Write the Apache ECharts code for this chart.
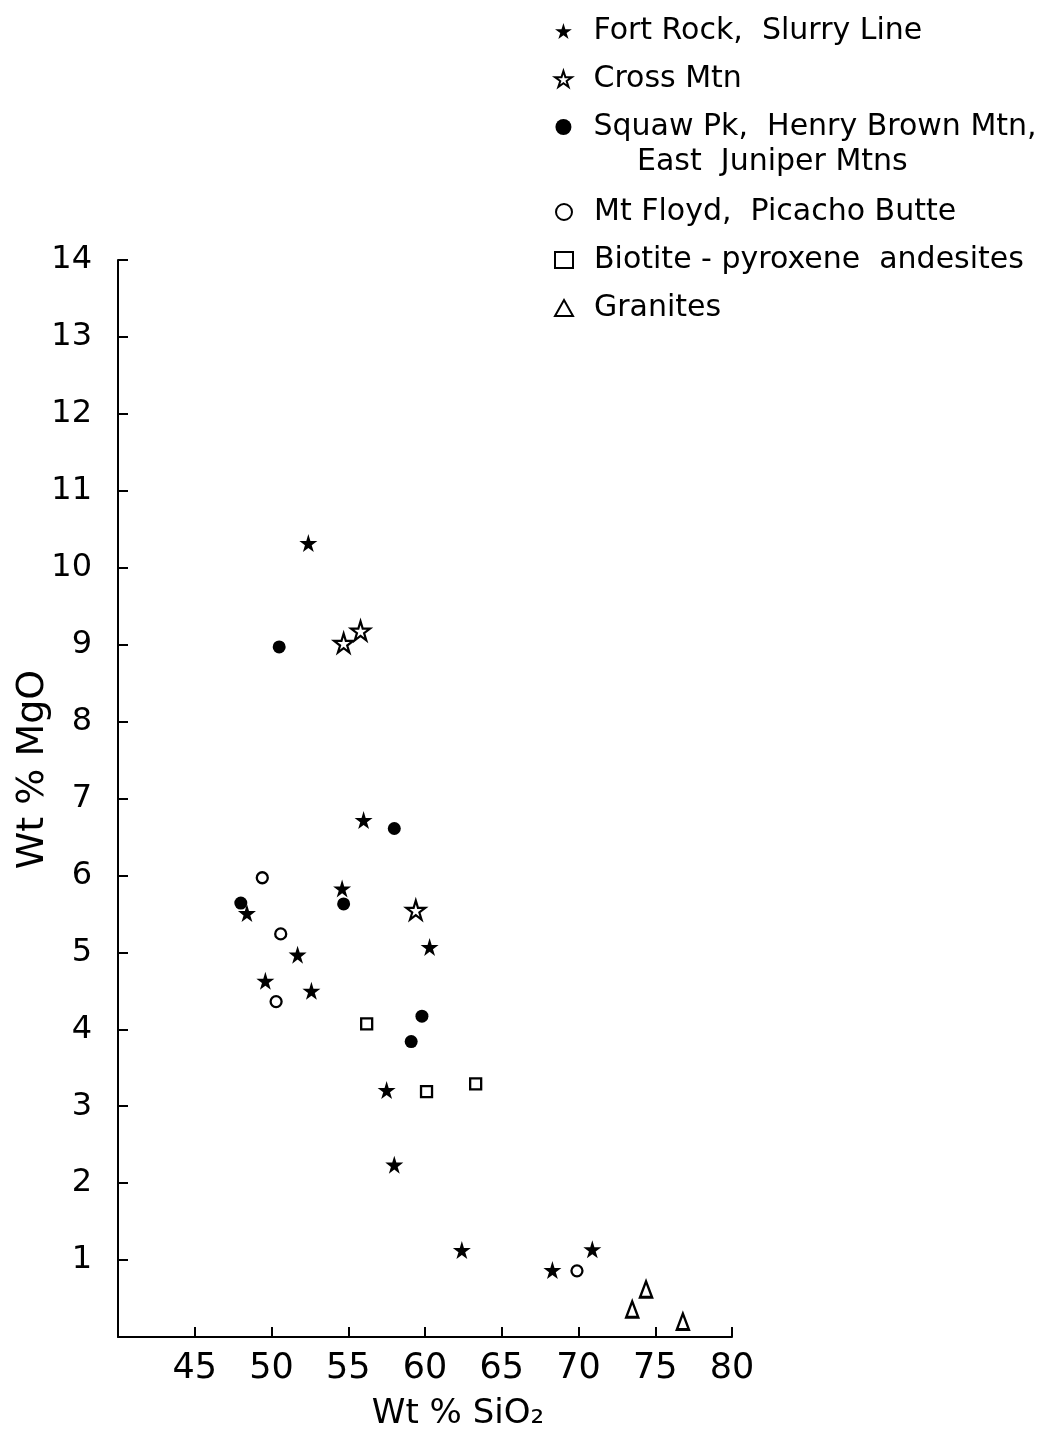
<!DOCTYPE html>
<html><head><meta charset="utf-8">
<script src="https://cdn.jsdelivr.net/npm/echarts@6/dist/echarts.min.js"></script>
<style>html,body{margin:0;padding:0;background:#fff}#c{width:1061px;height:1438px}</style>
</head><body><div id="c"></div>
<script>
// Tick labels
const xTickLabels = [45, 50, 55, 60, 65, 70, 75, 80];
const yTickLabels = [1, 2, 3, 4, 5, 6, 7, 8, 9, 10, 11, 12, 13, 14];

// Series names
const seriesNames = [
  'Fort Rock,  Slurry Line',
  'Cross Mtn',
  'Squaw Pk,  Henry Brown Mtn,',
  'Mt Floyd,  Picacho Butte',
  'Biotite - pyroxene  andesites',
  'Granites'
];

// Data [SiO2, MgO]
const fortRock = [[52.4,10.32],[56.0,6.72],[54.6,5.83],[48.4,5.51],[51.7,4.97],[60.3,5.07],[49.6,4.63],[52.6,4.50],[57.5,3.21],[58.0,2.24],[62.4,1.13],[68.3,0.87],[70.9,1.14]];
const crossMtn = [[54.7,9.02],[55.8,9.18],[59.4,5.55]];
const squawPk = [[50.5,8.97],[58.0,6.61],[48.0,5.64],[54.7,5.63],[59.8,4.17],[59.1,3.84]];
const mtFloyd = [[49.4,5.97],[50.6,5.24],[50.3,4.36],[69.9,0.86]];
const biotite = [[56.2,4.07],[60.1,3.19],[63.3,3.29]];
const granites = [[73.5,0.36],[74.4,0.62],[76.8,0.20]];

const FONT = 'DejaVu Sans';
const STAR = 'path://M50,0 L61,35 L98,35 L68,57 L79,91 L50,70 L21,91 L32,57 L2,35 L39,35 Z';

const chart = echarts.init(document.getElementById('c'), null, {renderer: 'canvas'});

const legendBase = {
  orient: 'vertical',
  left: 549,
  itemWidth: 18,
  itemHeight: 16,
  itemGap: 14,
  selectedMode: false,
  textStyle: {fontSize: 30, fontFamily: FONT, color: '#000', lineHeight: 34, padding: [0, 0, 0, 16]}
};

chart.setOption({
  animation: false,
  backgroundColor: '#fff',
  grid: {left: 118, right: 329, top: 260, bottom: 101, containLabel: false, outerBoundsMode: 'none'},
  legend: [
    Object.assign({}, legendBase, {top: 9, data: [seriesNames[0], seriesNames[1], seriesNames[2]]}),
    Object.assign({}, legendBase, {top: 190, data: [seriesNames[3], seriesNames[4], seriesNames[5]]})
  ],
  graphic: [{
    type: 'text', x: 637, y: 162,
    style: {text: 'East  Juniper Mtns', font: '30px "DejaVu Sans"', fill: '#000', verticalAlign: 'middle'}
  }],
  xAxis: {
    type: 'value', min: 40, max: 80, interval: 5,
    name: 'Wt % SiO\u2082', nameLocation: 'middle', nameGap: 60, nameMoveOverlap: false,
    nameTextStyle: {fontSize: 34, fontFamily: FONT, color: '#000', padding: [0, 0, 0, 66]},
    axisLine: {lineStyle: {color: '#000', width: 2}},
    axisTick: {inside: true, length: 10, lineStyle: {color: '#000', width: 2}},
    axisLabel: {
      fontSize: 35, fontFamily: FONT, color: '#000', margin: 14,
      formatter: v => xTickLabels.includes(v) ? String(v) : ''
    },
    splitLine: {show: false}
  },
  yAxis: {
    type: 'value', min: 0, max: 14, interval: 1,
    name: 'Wt % MgO', nameLocation: 'middle', nameGap: 66, nameRotate: 90, nameMoveOverlap: false,
    nameTextStyle: {fontSize: 38, fontFamily: FONT, color: '#000', padding: [0, 0, 0, 58]},
    axisLine: {lineStyle: {color: '#000', width: 2}},
    axisTick: {inside: true, length: 10, lineStyle: {color: '#000', width: 2}},
    axisLabel: {
      fontSize: 32, fontFamily: FONT, color: '#000', margin: 26,
      formatter: v => yTickLabels.includes(v) ? String(v) : ''
    },
    splitLine: {show: false}
  },
  series: [
    {name: seriesNames[0], type: 'scatter', data: fortRock, symbol: STAR, symbolSize: 18,
     itemStyle: {color: '#000', opacity: 1}},
    {name: seriesNames[1], type: 'scatter', data: crossMtn, symbol: STAR, symbolSize: 19,
     itemStyle: {color: '#fff', borderColor: '#000', borderWidth: 2.2, opacity: 1}},
    {name: seriesNames[2], type: 'scatter', data: squawPk, symbol: 'circle', symbolSize: 13,
     itemStyle: {color: '#000', opacity: 1}},
    {name: seriesNames[3], type: 'scatter', data: mtFloyd, symbol: 'circle', symbolSize: 11,
     itemStyle: {color: '#fff', borderColor: '#000', borderWidth: 2.3, opacity: 1}},
    {name: seriesNames[4], type: 'scatter', data: biotite, symbol: 'rect', symbolSize: 11,
     itemStyle: {color: '#fff', borderColor: '#000', borderWidth: 2.3, opacity: 1}},
    {name: seriesNames[5], type: 'scatter', data: granites, symbol: 'triangle', symbolSize: [12, 16],
     itemStyle: {color: '#fff', borderColor: '#000', borderWidth: 2.6, opacity: 1}}
  ].map(s => Object.assign(s, {emphasis: {disabled: true}}))
});
</script>
</body></html>
